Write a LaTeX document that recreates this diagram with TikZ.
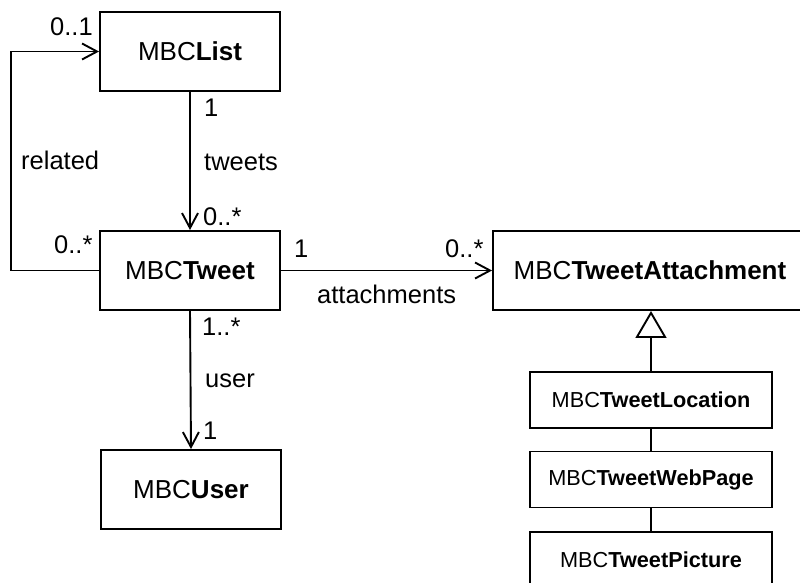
\documentclass[tikz,border=0pt]{standalone}
\usepackage{fontspec}
\setmainfont{Liberation Sans}
\usetikzlibrary{arrows.meta}
\begin{document}
\begin{tikzpicture}[x=1pt,y=-1pt,
  cls/.style={draw,line width=1.9pt,rectangle,inner sep=0pt,
    font=\fontsize{26}{30}\selectfont},
  sub/.style={cls,font=\fontsize{21.7}{26}\selectfont},
  lbl/.style={inner sep=0pt,anchor=base west,font=\fontsize{25.5}{30}\selectfont},
  assoc/.style={line width=1.9pt,-{Straight Barb[length=15pt,width=16pt]}},
  genl/.style={line width=1.9pt,-{Triangle[open,length=27pt,width=31pt]}},
  plain/.style={line width=1.9pt}]
\clip (0,0) rectangle (800,582);

% classes
\node[cls,minimum width=180,minimum height=79] (list)  at (190,51.5)  {MBC\textbf{List}};
\node[cls,minimum width=180,minimum height=79] (tweet) at (190,270.5) {MBC\textbf{Tweet}};
\node[cls,minimum width=180,minimum height=79] (user)  at (191,489.5) {MBC\textbf{User}};
\node[cls,minimum width=314,minimum height=79] (attach) at (650,270.5) {MBC\textbf{TweetAttachment}};

% attachment subclasses
\node[sub,minimum width=242,minimum height=56] (loc) at (651,400)   {MBC\textbf{TweetLocation}};
\node[sub,minimum width=242,minimum height=56] (web) at (651,479.5) {MBC\textbf{TweetWebPage}};
\node[sub,minimum width=242,minimum height=56] (pic) at (651,560)   {MBC\textbf{TweetPicture}};

% associations
\draw[assoc] (tweet.west) -- ++(-88,0) |- (list.west);
\draw[assoc] (list.south) -- (tweet.north);
\draw[assoc] (tweet.east) -- (attach.west);
\draw[assoc] (tweet.south) -- (user.north);

% generalization
\draw[genl] (loc.north) -- (loc.north |- attach.south);
\draw[plain] (loc.south) -- (web.north);
\draw[plain] (web.south) -- (pic.north);

% role names and multiplicities
\node[lbl] (m01)   at (50,35)   {0..1};
\node[lbl] (mls)   at (204,116) {1};
\node[lbl] (rtw)   at (204,170) {tweets};
\node[lbl] (rrel)  at (21,169)  {related};
\node[lbl] (mtw)   at (203,225) {0..*};
\node[lbl] (mrel)  at (54,253)  {0..*};
\node[lbl] (mtwa)  at (294,257) {1};
\node[lbl] (mat)   at (445,257) {0..*};
\node[lbl] (ratt)  at (317,303) {attachments};
\node[lbl] (mus)   at (202,335) {1..*};
\node[lbl] (rus)   at (205,387) {user};
\node[lbl] (muo)   at (203,439) {1};
\end{tikzpicture}
\end{document}
